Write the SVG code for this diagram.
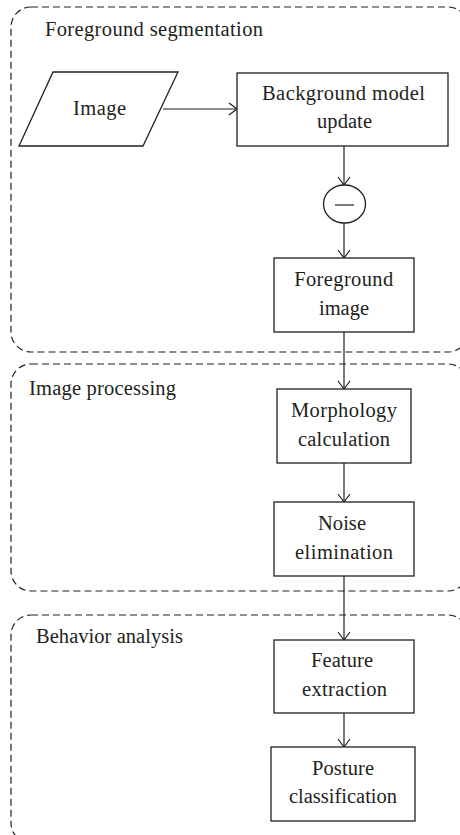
<svg xmlns="http://www.w3.org/2000/svg" width="460" height="835" viewBox="0 0 460 835">
<style>
.grp{fill:none;stroke:#231f20;stroke-width:1.2;stroke-dasharray:7 4}
.box{fill:#fff;stroke:#231f20;stroke-width:1.3}
.con{fill:none;stroke:#231f20;stroke-width:1.2;marker-end:url(#arr)}
text{font-family:"Liberation Serif","Times New Roman",serif;font-size:20.5px;fill:#231f20}
.c{text-anchor:middle}
</style>
<defs>
<marker id="arr" markerUnits="userSpaceOnUse" viewBox="0 0 10 14" refX="9.5" refY="7" markerWidth="10" markerHeight="14" orient="auto">
<path d="M1.5,1 L9.5,7 L1.5,13" fill="none" stroke="#231f20" stroke-width="1.2"/>
</marker>
</defs>
<g id="group-foreground">
<rect class="grp" x="11" y="7" width="457" height="345" rx="20" ry="20"/>
<text x="45" y="36" textLength="218" lengthAdjust="spacing">Foreground segmentation</text>
</g>
<g id="group-processing">
<rect class="grp" x="11" y="364" width="457" height="227" rx="20" ry="20"/>
<text x="29" y="395" textLength="147" lengthAdjust="spacing">Image processing</text>
</g>
<g id="group-behavior">
<rect class="grp" x="11" y="615" width="457" height="228" rx="20" ry="20"/>
<text x="36" y="643" textLength="147" lengthAdjust="spacing">Behavior analysis</text>
</g>
<g id="connectors">
<line class="con" x1="163" y1="109" x2="237" y2="109"/>
<line class="con" x1="344" y1="146" x2="344" y2="185"/>
<line class="con" x1="344" y1="223" x2="344" y2="258"/>
<line class="con" x1="344" y1="332" x2="344" y2="389"/>
<line class="con" x1="344" y1="463" x2="344" y2="502"/>
<line class="con" x1="344" y1="576" x2="344" y2="640"/>
<line class="con" x1="344" y1="713" x2="344" y2="747"/>
</g>
<g id="node-image">
<polygon class="box" points="53,72 178,72 143,146 19,146"/>
<text class="c" x="99.5" y="115" textLength="53" lengthAdjust="spacing">Image</text>
</g>
<g id="node-background">
<rect class="box" x="237" y="73" width="211" height="73"/>
<text class="c" x="343.5" y="100" textLength="163" lengthAdjust="spacing">Background model</text>
<text class="c" x="344.5" y="128" textLength="55" lengthAdjust="spacing">update</text>
</g>
<g id="node-subtract">
<ellipse class="box" cx="344.5" cy="204" rx="21" ry="19"/>
<line x1="335" y1="205" x2="354" y2="205" stroke="#231f20" stroke-width="1.2"/>
</g>
<g id="node-foreground-image">
<rect class="box" x="274" y="258" width="140" height="74"/>
<text class="c" x="343.7" y="286" textLength="99" lengthAdjust="spacing">Foreground</text>
<text class="c" x="344" y="315" textLength="50" lengthAdjust="spacing">image</text>
</g>
<g id="node-morphology">
<rect class="box" x="277" y="389" width="134" height="74"/>
<text class="c" x="344" y="417" textLength="106" lengthAdjust="spacing">Morphology</text>
<text class="c" x="344" y="446" textLength="92" lengthAdjust="spacing">calculation</text>
</g>
<g id="node-noise">
<rect class="box" x="274" y="502" width="140" height="74"/>
<text class="c" x="342" y="530" textLength="48" lengthAdjust="spacing">Noise</text>
<text class="c" x="344" y="559" textLength="98" lengthAdjust="spacing">elimination</text>
</g>
<g id="node-feature">
<rect class="box" x="274" y="640" width="140" height="73"/>
<text class="c" x="342" y="667" textLength="62" lengthAdjust="spacing">Feature</text>
<text class="c" x="344.5" y="696" textLength="85" lengthAdjust="spacing">extraction</text>
</g>
<g id="node-posture">
<rect class="box" x="271" y="747" width="144" height="74"/>
<text class="c" x="343" y="775" textLength="62" lengthAdjust="spacing">Posture</text>
<text class="c" x="343" y="803" textLength="108" lengthAdjust="spacing">classification</text>
</g>
</svg>
